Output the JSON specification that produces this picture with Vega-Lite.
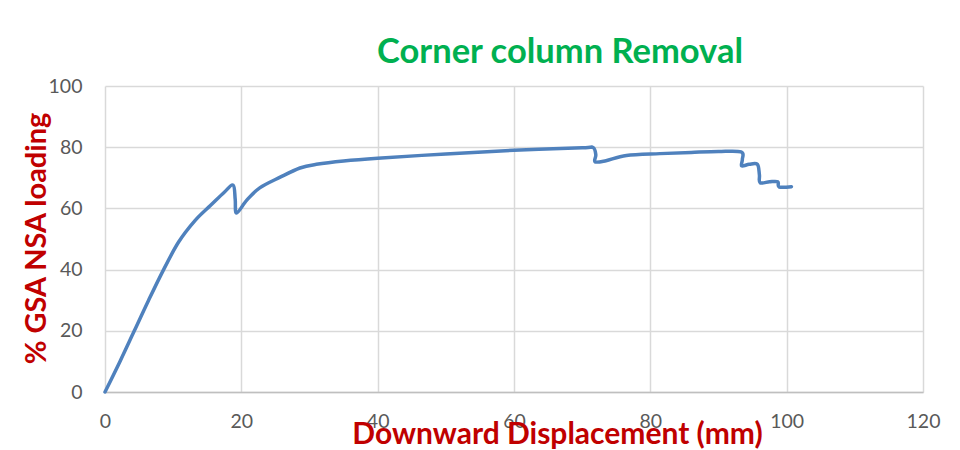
{
  "$schema": "https://vega.github.io/schema/vega-lite/v6.json",
  "width": 818,
  "height": 306,
  "autosize": {"type": "none"},
  "padding": {"left": 105, "top": 86, "right": 37, "bottom": 58},
  "background": "white",
  "title": {
    "text": "Corner column Removal",
    "color": "#00B050",
    "font": "Lato",
    "fontSize": 34.5,
    "fontWeight": "bold",
    "anchor": "middle",
    "frame": "group",
    "dx": 46,
    "dy": 33,
    "baseline": "alphabetic",
    "offset": 12
  },
  "data": {
    "values": [
      {"i": 1, "disp": 0, "load": 0},
      {"i": 2, "disp": 2.2, "load": 10},
      {"i": 3, "disp": 4.3, "load": 20},
      {"i": 4, "disp": 6.4, "load": 30},
      {"i": 5, "disp": 8.6, "load": 40},
      {"i": 6, "disp": 10.8, "load": 49},
      {"i": 7, "disp": 13.2, "load": 56},
      {"i": 8, "disp": 15.5, "load": 61},
      {"i": 9, "disp": 17.5, "load": 65.3},
      {"i": 10, "disp": 18.8, "load": 67.6},
      {"i": 11, "disp": 19.1, "load": 63},
      {"i": 12, "disp": 19.3, "load": 58.5},
      {"i": 13, "disp": 20.8, "load": 62.7},
      {"i": 14, "disp": 22.7, "load": 66.7},
      {"i": 15, "disp": 25.7, "load": 70.2},
      {"i": 16, "disp": 28.6, "load": 73.2},
      {"i": 17, "disp": 31, "load": 74.4},
      {"i": 18, "disp": 35, "load": 75.5},
      {"i": 19, "disp": 40, "load": 76.4},
      {"i": 20, "disp": 50, "load": 77.8},
      {"i": 21, "disp": 60, "load": 79},
      {"i": 22, "disp": 70, "load": 79.8},
      {"i": 23, "disp": 71.6, "load": 79.9},
      {"i": 24, "disp": 72, "load": 77.5},
      {"i": 25, "disp": 71.9, "load": 75.2},
      {"i": 26, "disp": 73.5, "load": 75.6},
      {"i": 27, "disp": 76.5, "load": 77.3},
      {"i": 28, "disp": 81.4, "load": 77.9},
      {"i": 29, "disp": 86, "load": 78.3},
      {"i": 30, "disp": 90, "load": 78.6},
      {"i": 31, "disp": 93.3, "load": 78.5},
      {"i": 32, "disp": 93.5, "load": 76},
      {"i": 33, "disp": 93.4, "load": 73.9},
      {"i": 34, "disp": 94.5, "load": 74.4},
      {"i": 35, "disp": 95.7, "load": 74.4},
      {"i": 36, "disp": 96, "load": 71},
      {"i": 37, "disp": 96.1, "load": 68.4},
      {"i": 38, "disp": 97.5, "load": 68.7},
      {"i": 39, "disp": 98.7, "load": 68.7},
      {"i": 40, "disp": 98.9, "load": 67},
      {"i": 41, "disp": 100.7, "load": 67.1}
    ]
  },
  "mark": {"type": "line", "interpolate": "cardinal", "color": "#4F81BD", "strokeWidth": 3.5, "strokeCap": "round", "strokeJoin": "round"},
  "encoding": {
    "x": {
      "field": "disp",
      "type": "quantitative",
      "scale": {"domain": [0, 120], "nice": false, "zero": false},
      "axis": {
        "values": [0, 20, 40, 60, 80, 100, 120],
        "grid": true,
        "gridColor": "#D9D9D9",
        "gridWidth": 1.5,
        "ticks": false,
        "tickSize": 0,
        "domain": true,
        "domainColor": "#BFBFBF",
        "domainWidth": 1.5,
        "labelFlush": false,
        "labelFont": "Lato",
        "labelFontSize": 19.5,
        "labelColor": "#595959",
        "labelPadding": 20,
        "title": "Downward Displacement (mm)",
        "titleFont": "Lato",
        "titleFontSize": 30,
        "titleFontWeight": "bold",
        "titleColor": "#C00000",
        "titleX": 452,
        "titleY": 51,
        "titleAlign": "center",
        "titleBaseline": "alphabetic"
      }
    },
    "y": {
      "field": "load",
      "type": "quantitative",
      "scale": {"domain": [0, 100], "nice": false},
      "axis": {
        "values": [0, 20, 40, 60, 80, 100],
        "grid": true,
        "gridColor": "#D9D9D9",
        "gridWidth": 1.5,
        "ticks": false,
        "tickSize": 0,
        "domain": false,
        "labelFlush": false,
        "labelFont": "Lato",
        "labelFontSize": 19.5,
        "labelColor": "#595959",
        "labelPadding": 23,
        "title": "% GSA NSA loading",
        "titleFont": "Lato",
        "titleFontSize": 29,
        "titleFontWeight": "bold",
        "titleColor": "#C00000",
        "titleX": -60,
        "titleY": 152,
        "titleAlign": "center",
        "titleAngle": -90,
        "titleBaseline": "alphabetic"
      }
    },
    "order": {"field": "i", "type": "quantitative"}
  },
  "config": {"view": {"stroke": null}}
}
